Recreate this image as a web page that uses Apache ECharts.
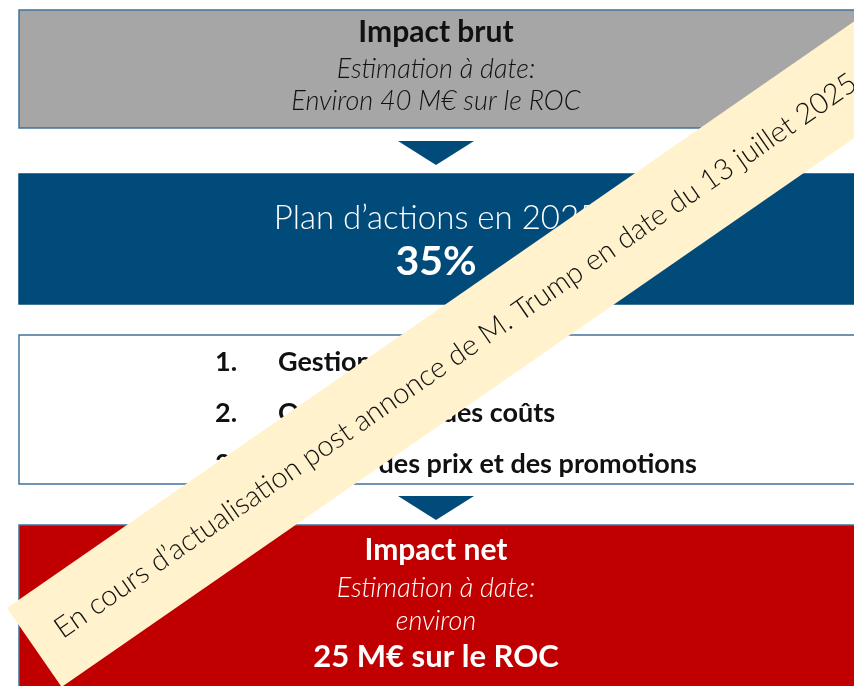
<!DOCTYPE html>
<html>
<head>
<meta charset="utf-8">
<script src="https://cdn.jsdelivr.net/npm/echarts@6/dist/echarts.min.js"></script>
<style>
html, body { margin: 0; padding: 0; background: #fff; }
#main { width: 854px; height: 686px; }
</style>
</head>
<body>
<div id="main"></div>
<script>
// texts of the slide
var grossLines = ['Impact brut', 'Estimation à date:', 'Environ 40 M€ sur le ROC'];
var planLines = ['Plan d’actions en 2025', '35%'];
var actionNums = ['1.', '2.', '3.'];
var actionItems = ['Gestion des stocks', 'Optimisation des coûts', 'Gestion des prix et des promotions'];
var netLines = ['Impact net', 'Estimation à date:', 'environ', '25 M€ sur le ROC'];
var bannerText = 'En cours d’actualisation post annonce de M. Trump en date du 13 juillet 2025';

var FONT = 'Lato, "Open Sans", sans-serif';
var CX = 436;
var BORDER = '#41719c';

function label(x, y, s, size, fill, weight, italic, align) {
    return {
        type: 'text', x: x, y: y, z: 10,
        style: {
            text: s, fill: fill, fontSize: size, fontFamily: FONT,
            fontWeight: weight || 'normal', fontStyle: italic ? 'italic' : 'normal',
            align: align || 'center', verticalAlign: 'middle'
        }
    };
}

function box(y, h, fill, stroke) {
    return {
        type: 'rect', z: 1,
        shape: {x: 19, y: y, width: 840, height: h},
        style: {fill: fill, stroke: stroke, lineWidth: 1.5}
    };
}

function arrow(y) {
    return {
        type: 'polygon', z: 1,
        shape: {points: [[CX - 38, y], [CX + 38, y], [CX, y + 24]]},
        style: {fill: '#004b7a'}
    };
}

var els = [];
els.push(box(10, 118, '#a6a6a6', BORDER));
els.push(label(CX, 32, grossLines[0], 30, '#111', 'bold'));
els.push(label(CX, 69, grossLines[1], 27, '#111', 300, true));
els.push(label(CX, 101, grossLines[2], 27, '#111', 300, true));

els.push(arrow(141));

els.push(box(174, 130, '#004b7a', '#004b7a'));
els.push(label(CX, 218, planLines[0], 33, '#fff', 300));
els.push(label(CX, 262, planLines[1], 41, '#fff', 'bold'));

els.push(box(335, 149, '#fff', BORDER));
actionNums.forEach(function (n, i) {
    var y = 362 + i * 51;
    els.push(label(215, y, n, 27, '#111', 'bold', false, 'left'));
    els.push(label(278, y, actionItems[i], 27, '#111', 'bold', false, 'left'));
});

els.push(arrow(496));

els.push(box(525, 180, '#c00000', BORDER));
els.push(label(CX, 550, netLines[0], 30, '#fff', 'bold'));
els.push(label(CX, 588, netLines[1], 27, '#fff', 300, true));
els.push(label(CX, 621, netLines[2], 27, '#fff', 300, true));
els.push(label(CX, 657, netLines[3], 31, '#fff', 'bold'));

// diagonal banner on top of everything
var ang = 34.7 * Math.PI / 180;
var bannerLen = 1160;
els.push({
    type: 'group', x: 34.3 + Math.cos(ang) * bannerLen / 2, y: 647.5 - Math.sin(ang) * bannerLen / 2,
    rotation: ang, z: 50,
    children: [
        {type: 'rect', z: 50, shape: {x: -bannerLen / 2, y: -48, width: bannerLen, height: 96},
         style: {fill: '#fff2cc'}},
        {type: 'text', z: 51, x: -bannerLen / 2 + 28, y: 0,
         style: {text: bannerText, fill: '#111', fontSize: 29, fontFamily: FONT, fontWeight: 300,
                 align: 'left', verticalAlign: 'middle'}}
    ]
});

var myChart = echarts.init(document.getElementById('main'));
myChart.setOption({
    backgroundColor: '#fff',
    animation: false,
    graphic: {elements: els}
});
</script>
</body>
</html>
